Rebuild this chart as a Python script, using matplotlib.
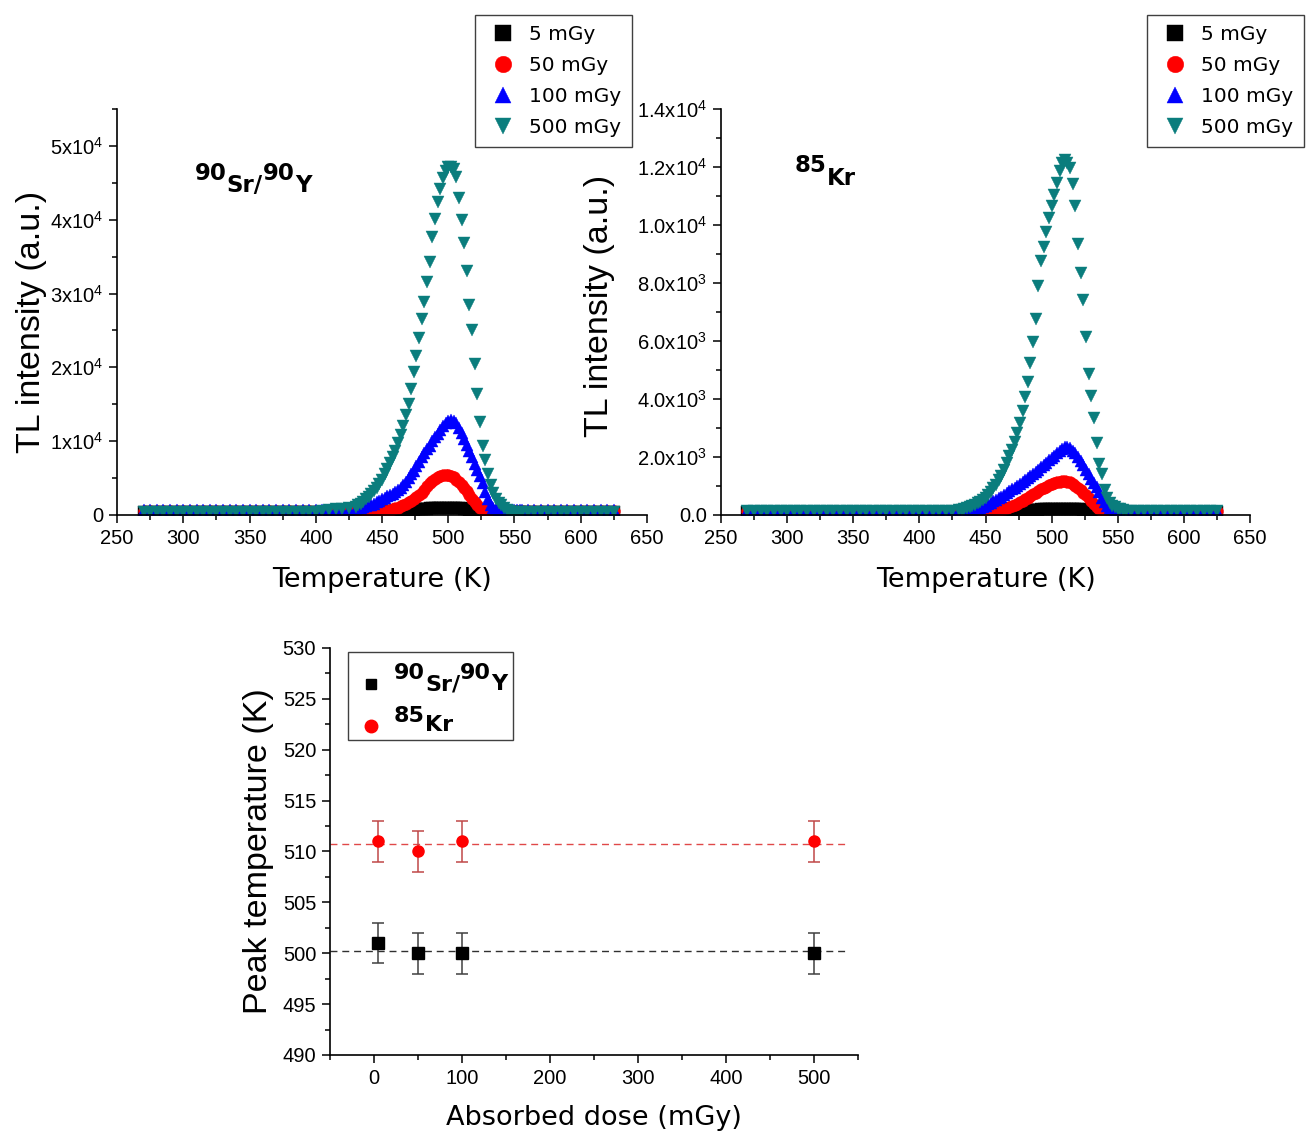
import numpy as np
import matplotlib
matplotlib.use("Agg")
import matplotlib.pyplot as plt
from matplotlib.patches import Rectangle
from matplotlib.ticker import MultipleLocator
from matplotlib.transforms import offset_copy

plt.rcParams['font.family'] = ['Liberation Sans', 'DejaVu Sans']
plt.rcParams['mathtext.fontset'] = 'custom'
plt.rcParams['mathtext.rm'] = 'Liberation Sans'
plt.rcParams['mathtext.it'] = 'Liberation Sans:italic'
plt.rcParams['mathtext.bf'] = 'Liberation Sans:bold'

# ---- glow curves (temperature in K, intensity in units of 1e3 a.u.) ----
# readout grid: coarse on the flat background, 2 K over the peak
temp = np.r_[np.arange(270, 426, 5), np.arange(430, 557, 2), np.arange(560, 626, 5)]

doses = ["5 mGy", "50 mGy", "100 mGy", "500 mGy"]

sr_5 = [0.40, 0.40, 0.40, 0.40, 0.40, 0.40, 0.40, 0.40, 0.40, 0.40, 0.40, 0.40, 0.40, 0.40, 0.40, 0.40,
        0.40, 0.40, 0.40, 0.40, 0.40, 0.40, 0.40, 0.40, 0.40, 0.40, 0.40, 0.40, 0.40, 0.40, 0.40, 0.40,
        0.40, 0.40, 0.40, 0.40, 0.40, 0.40, 0.41, 0.41, 0.42, 0.43, 0.44, 0.46, 0.48, 0.50, 0.52, 0.54,
        0.56, 0.59, 0.62, 0.65, 0.68, 0.70, 0.72, 0.75, 0.78, 0.80, 0.82, 0.85, 0.88, 0.90, 0.92, 0.95,
        0.97, 0.98, 1.00, 1.00, 1.00, 0.98, 0.95, 0.92, 0.88, 0.82, 0.75, 0.68, 0.60, 0.52, 0.46, 0.42,
        0.40, 0.40, 0.40, 0.40, 0.40, 0.40, 0.40, 0.40, 0.40, 0.40, 0.40, 0.40, 0.40, 0.40, 0.40, 0.40,
        0.40, 0.40, 0.40, 0.40, 0.40, 0.40, 0.40, 0.40, 0.40, 0.40, 0.40, 0.40, 0.40, 0.40]
sr_50 = [0.50, 0.50, 0.50, 0.50, 0.50, 0.50, 0.50, 0.50, 0.50, 0.50, 0.50, 0.50, 0.50, 0.50, 0.50, 0.50,
         0.50, 0.50, 0.50, 0.50, 0.50, 0.50, 0.50, 0.50, 0.50, 0.50, 0.50, 0.50, 0.50, 0.50, 0.50, 0.50,
         0.50, 0.50, 0.50, 0.50, 0.50, 0.50, 0.50, 0.50, 0.50, 0.50, 0.50, 0.55, 0.60, 0.70, 0.80, 0.90,
         1.00, 1.15, 1.30, 1.50, 1.70, 1.90, 2.10, 2.40, 2.70, 3.00, 3.40, 3.90, 4.30, 4.60, 4.90, 5.10,
         5.30, 5.40, 5.45, 5.40, 5.30, 5.10, 4.80, 4.40, 4.00, 3.60, 3.20, 2.70, 2.20, 1.70, 1.30, 1.00,
         0.70, 0.55, 0.50, 0.50, 0.50, 0.50, 0.50, 0.50, 0.50, 0.50, 0.50, 0.50, 0.50, 0.50, 0.50, 0.50,
         0.50, 0.50, 0.50, 0.50, 0.50, 0.50, 0.50, 0.50, 0.50, 0.50, 0.50, 0.50, 0.50, 0.50]
sr_100 = [0.70, 0.70, 0.70, 0.70, 0.70, 0.70, 0.70, 0.70, 0.70, 0.70, 0.70, 0.70, 0.70, 0.70, 0.70, 0.70,
          0.70, 0.70, 0.70, 0.70, 0.70, 0.70, 0.70, 0.70, 0.70, 0.70, 0.70, 0.70, 0.70, 0.70, 0.70, 0.70,
          0.80, 0.90, 1.00, 1.10, 1.20, 1.30, 1.40, 1.50, 1.70, 1.90, 2.10, 2.30, 2.50, 2.70, 2.90, 3.10,
          3.40, 3.70, 4.10, 4.50, 5.00, 5.50, 6.00, 6.60, 7.20, 7.80, 8.40, 8.90, 9.40, 10.0, 10.5, 11.0,
          11.5, 12.0, 12.4, 12.7, 12.8, 12.7, 12.4, 11.8, 11.1, 10.3, 9.50, 8.60, 7.80, 6.90, 6.10, 5.30,
          4.30, 3.10, 2.20, 1.40, 0.90, 0.80, 0.70, 0.70, 0.70, 0.70, 0.70, 0.70, 0.70, 0.70, 0.70, 0.70,
          0.70, 0.70, 0.70, 0.70, 0.70, 0.70, 0.70, 0.70, 0.70, 0.70, 0.70, 0.70, 0.70, 0.70]
sr_500 = [0.35, 0.35, 0.35, 0.35, 0.35, 0.35, 0.35, 0.35, 0.35, 0.35, 0.35, 0.35, 0.35, 0.35, 0.35, 0.35,
          0.35, 0.35, 0.35, 0.35, 0.35, 0.35, 0.35, 0.35, 0.35, 0.35, 0.45, 0.55, 0.65, 0.75, 0.85, 0.95,
          1.10, 1.30, 1.50, 1.80, 2.10, 2.40, 2.80, 3.20, 3.70, 4.20, 4.80, 5.50, 6.20, 7.00, 7.80, 8.70,
          9.70, 10.8, 12.1, 13.6, 15.0, 17.0, 19.3, 21.5, 24.0, 26.5, 28.9, 31.5, 34.3, 37.6, 40.1, 42.4,
          44.2, 45.6, 46.6, 47.1, 47.2, 46.8, 45.8, 43.0, 40.0, 36.8, 33.0, 28.5, 25.0, 20.5, 16.4, 12.6,
          9.40, 7.50, 5.60, 4.10, 3.00, 2.20, 1.60, 1.30, 0.90, 0.70, 0.55, 0.45, 0.40, 0.38, 0.36, 0.35,
          0.35, 0.35, 0.35, 0.35, 0.35, 0.35, 0.35, 0.35, 0.35, 0.35, 0.35, 0.35, 0.35, 0.35]

kr_5 = [0.10, 0.10, 0.10, 0.10, 0.10, 0.10, 0.10, 0.10, 0.10, 0.10, 0.10, 0.10, 0.10, 0.10, 0.10, 0.10,
        0.10, 0.10, 0.10, 0.10, 0.10, 0.10, 0.10, 0.10, 0.10, 0.10, 0.10, 0.10, 0.10, 0.10, 0.10, 0.10,
        0.10, 0.10, 0.10, 0.10, 0.10, 0.10, 0.10, 0.10, 0.10, 0.10, 0.10, 0.10, 0.10, 0.10, 0.10, 0.11,
        0.11, 0.12, 0.12, 0.13, 0.13, 0.14, 0.14, 0.15, 0.15, 0.16, 0.16, 0.17, 0.17, 0.18, 0.18, 0.19,
        0.19, 0.20, 0.20, 0.21, 0.21, 0.22, 0.22, 0.22, 0.22, 0.22, 0.21, 0.21, 0.20, 0.20, 0.19, 0.18,
        0.17, 0.16, 0.15, 0.14, 0.13, 0.12, 0.11, 0.10, 0.10, 0.10, 0.10, 0.10, 0.10, 0.10, 0.10, 0.10,
        0.10, 0.10, 0.10, 0.10, 0.10, 0.10, 0.10, 0.10, 0.10, 0.10, 0.10, 0.10, 0.10, 0.10]
kr_50 = [0.12, 0.12, 0.12, 0.12, 0.12, 0.12, 0.12, 0.12, 0.12, 0.12, 0.12, 0.12, 0.12, 0.12, 0.12, 0.12,
         0.12, 0.12, 0.12, 0.12, 0.12, 0.12, 0.12, 0.12, 0.12, 0.12, 0.12, 0.12, 0.12, 0.12, 0.12, 0.12,
         0.12, 0.12, 0.12, 0.12, 0.12, 0.12, 0.12, 0.12, 0.12, 0.12, 0.12, 0.13, 0.14, 0.15, 0.16, 0.18,
         0.20, 0.22, 0.25, 0.28, 0.31, 0.35, 0.39, 0.44, 0.49, 0.54, 0.59, 0.65, 0.71, 0.77, 0.83, 0.88,
         0.93, 0.98, 1.03, 1.07, 1.10, 1.13, 1.15, 1.16, 1.16, 1.15, 1.12, 1.07, 1.01, 0.94, 0.86, 0.77,
         0.68, 0.58, 0.48, 0.38, 0.28, 0.20, 0.15, 0.13, 0.12, 0.12, 0.12, 0.12, 0.12, 0.12, 0.12, 0.12,
         0.12, 0.12, 0.12, 0.12, 0.12, 0.12, 0.12, 0.12, 0.12, 0.12, 0.12, 0.12, 0.12, 0.12]
kr_100 = [0.15, 0.15, 0.15, 0.15, 0.15, 0.15, 0.15, 0.15, 0.15, 0.15, 0.15, 0.15, 0.15, 0.15, 0.15, 0.15,
          0.15, 0.15, 0.15, 0.15, 0.15, 0.15, 0.15, 0.15, 0.15, 0.15, 0.15, 0.15, 0.15, 0.15, 0.15, 0.15,
          0.15, 0.15, 0.16, 0.16, 0.17, 0.18, 0.19, 0.21, 0.24, 0.28, 0.32, 0.37, 0.42, 0.47, 0.52, 0.57,
          0.63, 0.69, 0.75, 0.82, 0.88, 0.94, 1.00, 1.06, 1.13, 1.20, 1.27, 1.34, 1.41, 1.48, 1.56, 1.64,
          1.72, 1.80, 1.88, 1.96, 2.04, 2.12, 2.20, 2.28, 2.34, 2.35, 2.30, 2.22, 2.12, 1.99, 1.86, 1.71,
          1.56, 1.40, 1.25, 1.10, 0.96, 0.80, 0.60, 0.44, 0.32, 0.24, 0.19, 0.16, 0.15, 0.15, 0.15, 0.15,
          0.15, 0.15, 0.15, 0.15, 0.15, 0.15, 0.15, 0.15, 0.15, 0.15, 0.15, 0.15, 0.15, 0.15]
kr_500 = [0.12, 0.12, 0.12, 0.12, 0.12, 0.12, 0.12, 0.12, 0.12, 0.12, 0.12, 0.12, 0.12, 0.12, 0.12, 0.12,
          0.12, 0.12, 0.12, 0.12, 0.12, 0.12, 0.12, 0.12, 0.12, 0.12, 0.12, 0.12, 0.12, 0.12, 0.13, 0.14,
          0.16, 0.18, 0.21, 0.24, 0.28, 0.32, 0.36, 0.41, 0.46, 0.52, 0.60, 0.69, 0.80, 0.92, 1.05, 1.20,
          1.36, 1.55, 1.78, 2.02, 2.25, 2.50, 2.82, 3.18, 3.60, 4.08, 4.58, 5.25, 5.95, 6.75, 7.90, 8.75,
          9.25, 9.75, 10.25, 10.65, 11.05, 11.45, 11.85, 12.15, 12.25, 12.15, 11.95, 11.40, 10.65, 9.35, 8.35, 7.40,
          6.15, 4.85, 4.10, 3.35, 2.47, 1.75, 1.40, 0.85, 0.58, 0.42, 0.32, 0.26, 0.22, 0.19, 0.17, 0.15,
          0.14, 0.14, 0.14, 0.14, 0.14, 0.14, 0.14, 0.14, 0.14, 0.14, 0.14, 0.14, 0.14, 0.14]

sr_curves = [sr_5, sr_50, sr_100, sr_500]
kr_curves = [kr_5, kr_50, kr_100, kr_500]

sr_yticks = [0, 1e4, 2e4, 3e4, 4e4, 5e4]
sr_yticklabels = ["0", "1x10$^{4}$", "2x10$^{4}$", "3x10$^{4}$", "4x10$^{4}$", "5x10$^{4}$"]
kr_yticks = [0, 2e3, 4e3, 6e3, 8e3, 1e4, 1.2e4, 1.4e4]
kr_yticklabels = ["0.0", "2.0x10$^{3}$", "4.0x10$^{3}$", "6.0x10$^{3}$", "8.0x10$^{3}$",
                  "1.0x10$^{4}$", "1.2x10$^{4}$", "1.4x10$^{4}$"]

# ---- peak position vs dose ----
dose_mgy = [5, 50, 100, 500]
peak_sr = [501, 500, 500, 500]
peak_kr = [511, 510, 511, 511]
peak_err = [2, 2, 2, 2]
fit_range = [-50, 537]

markers = ["s", "o", "^", "v"]
colors = ["black", "red", "blue", "#0a7d7d"]

SANS = "DejaVu Sans"


def style_axes(ax):
    ax.spines["top"].set_visible(False)
    ax.spines["right"].set_visible(False)
    for s in ("left", "bottom"):
        ax.spines[s].set_linewidth(1.2)
    ax.tick_params(which="both", direction="out", width=1.1, labelsize=14.5, pad=4)
    ax.tick_params(which="major", length=6)
    ax.tick_params(which="minor", length=3.5)


def isotope_label(ax, x, y, parts, size, transform):
    # bold nuclide name with the mass number set higher than the symbol
    fig = ax.figure
    rend = fig.canvas.get_renderer()
    dx = 0.0
    for s, dy in parts:
        tr = offset_copy(transform, fig=fig, x=dx, y=dy, units="points")
        t = ax.text(x, y, s, transform=tr, fontsize=size, fontweight="bold",
                    family=SANS, ha="left", va="center", zorder=6)
        dx += t.get_window_extent(renderer=rend).width * 72.0 / fig.dpi


def glow_panel(ax, curves, ylim, yticks, yticklabels, yminor):
    lines = []
    for vals, m, c, lab in zip(curves, markers, colors, doses):
        ln, = ax.plot(temp, np.array(vals) * 1e3, ls="none", marker=m, ms=8.5,
                      color=c, mec=c, mew=0.3, label=lab)
        lines.append(ln)
    ax.set_xlim(250, 650)
    ax.set_ylim(*ylim)
    ax.xaxis.set_major_locator(MultipleLocator(50))
    ax.xaxis.set_minor_locator(MultipleLocator(25))
    ax.set_yticks(yticks)
    ax.set_yticklabels(yticklabels)
    ax.yaxis.set_minor_locator(MultipleLocator(yminor))
    style_axes(ax)
    ax.set_xlabel("Temperature (K)", family=SANS, fontsize=19.5, va="center")
    ax.xaxis.set_label_coords(0.5, -0.16)
    ax.set_ylabel("TL intensity (a.u.)", fontsize=24.5, va="center", ha="center")
    return lines


fig = plt.figure(figsize=(13.06, 11.35), dpi=100)
ax1 = fig.add_axes([0.0896, 0.5463, 0.4058, 0.3577])
ax2 = fig.add_axes([0.5521, 0.5463, 0.4050, 0.3577])
ax3 = fig.add_axes([0.2527, 0.0705, 0.4043, 0.3586])

h1 = glow_panel(ax1, sr_curves, (0, 5.5e4), sr_yticks, sr_yticklabels, 5e3)
ax1.yaxis.set_label_coords(-0.162, 0.475)
h2 = glow_panel(ax2, kr_curves, (0, 1.4e4), kr_yticks, kr_yticklabels, 1e3)
ax2.yaxis.set_label_coords(-0.229, 0.515)

leg_kw = dict(loc="upper left", prop={"family": SANS, "size": 14.5}, frameon=True,
              fancybox=False, edgecolor="#404040", framealpha=1, markerscale=1.4,
              borderpad=0.5, labelspacing=0.6, handlelength=1.8, handletextpad=0.4,
              borderaxespad=0)
lg1 = fig.legend(handles=h1, bbox_to_anchor=(0.3637, 0.9868), **leg_kw)
lg2 = fig.legend(handles=h2, bbox_to_anchor=(0.8783, 0.9868), **leg_kw)
for lg in (lg1, lg2):
    lg.get_frame().set_linewidth(1.0)

isotope_label(ax1, 0.147, 0.826, [("90", 4.5), ("Sr/", -4.5), ("90", 4.5), ("Y", -4.5)],
              16.5, ax1.transAxes)
isotope_label(ax2, 0.140, 0.845, [("85", 4.5), ("Kr", -4.5)], 16.5, ax2.transAxes)

# ---- bottom panel: peak temperature against absorbed dose ----
ax3.plot(fit_range, [np.mean(peak_kr)] * 2, ls=(0, (5, 3.5)), lw=1.0, color="#e04848", zorder=1)
ax3.plot(fit_range, [np.mean(peak_sr)] * 2, ls=(0, (5, 3.5)), lw=1.0, color="#303030", zorder=1)
ax3.errorbar(dose_mgy, peak_sr, yerr=peak_err, fmt="s", ms=8, color="black",
             ecolor="#404040", elinewidth=1.1, capsize=4, capthick=1.1, zorder=3)
ax3.errorbar(dose_mgy, peak_kr, yerr=peak_err, fmt="o", ms=8, color="red",
             ecolor="#c04848", elinewidth=1.1, capsize=4, capthick=1.1, zorder=3)
ax3.set_xlim(-50, 550)
ax3.set_ylim(490, 530)
ax3.xaxis.set_major_locator(MultipleLocator(100))
ax3.xaxis.set_minor_locator(MultipleLocator(50))
ax3.yaxis.set_major_locator(MultipleLocator(5))
ax3.yaxis.set_minor_locator(MultipleLocator(2.5))
style_axes(ax3)
ax3.set_xlabel("Absorbed dose (mGy)", family=SANS, fontsize=19.5, va="center")
ax3.xaxis.set_label_coords(0.5, -0.155)
ax3.set_ylabel("Peak temperature (K)", fontsize=24.5, va="center", ha="center")
ax3.yaxis.set_label_coords(-0.136, 0.5)

# legend box for the bottom panel
ax3.add_patch(Rectangle((0.034, 0.774), 0.313, 0.215, transform=ax3.transAxes,
                        facecolor="white", edgecolor="#404040", lw=1.0, zorder=4))
ax3.plot([0.0777], [0.9115], "s", ms=7, color="black", transform=ax3.transAxes, zorder=5)
ax3.plot([0.0777], [0.808], "o", ms=9, color="red", transform=ax3.transAxes, zorder=5)
isotope_label(ax3, 0.121, 0.925, [("90", 4.0), ("Sr/", -4.0), ("90", 4.0), ("Y", -4.0)],
              16, ax3.transAxes)
isotope_label(ax3, 0.121, 0.822, [("85", 3.5), ("Kr", -3.5)], 16, ax3.transAxes)

fig.savefig("out.png", dpi=100)
